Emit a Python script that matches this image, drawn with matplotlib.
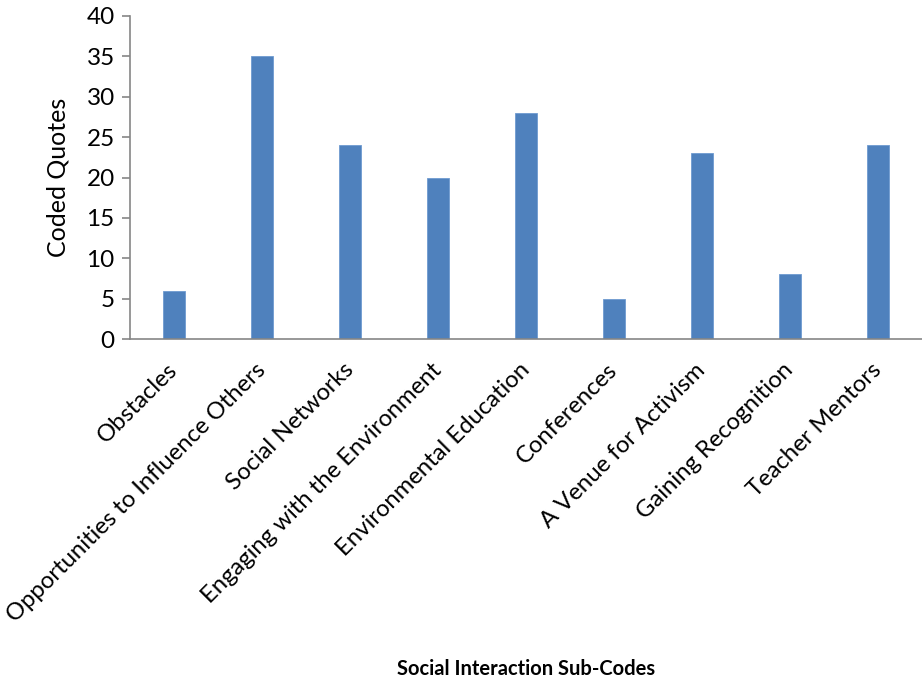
import matplotlib.pyplot as plt

plt.rcParams['font.family'] = ['Lato', 'DejaVu Sans']

categories = ['Obstacles', 'Opportunities to Influence Others', 'Social Networks',
              'Engaging with the Environment', 'Environmental Education', 'Conferences',
              'A Venue for Activism', 'Gaining Recognition', 'Teacher Mentors']
quotes = [6, 35, 24, 20, 28, 5, 23, 8, 24]
yticks = [0, 5, 10, 15, 20, 25, 30, 35, 40]

fig = plt.figure(figsize=(9.22, 6.77), dpi=100)
ax = fig.add_axes([130/922, 1-339/677, 1-130/922, (339-16)/677])

x = list(range(len(categories)))
ax.bar(x, quotes, width=0.25, color='#4F81BD', edgecolor='#6f9ad0', linewidth=0.6)

ax.set_xlim(-0.5, len(categories)-0.5)
ax.set_ylim(0, 40)
ax.set_yticks(yticks)
ax.set_xticks(x)
ax.set_xticklabels(categories, rotation=45, ha='right', va='center', rotation_mode='anchor')

for s in ['top', 'right']:
    ax.spines[s].set_visible(False)
for s in ['left', 'bottom']:
    ax.spines[s].set_color('#868686')
    ax.spines[s].set_linewidth(1.2)

ax.tick_params(axis='y', length=6, width=1.2, color='#868686', labelsize=17.5, pad=5)
ax.tick_params(axis='x', length=0, labelsize=17.2, pad=20)

ax.set_ylabel('Coded Quotes', fontsize=18, labelpad=12)
ax.set_xlabel('Social Interaction Sub-Codes', fontsize=14.5, fontweight='bold')
ax.xaxis.set_label_coords(0.5, -0.99)

fig.savefig('out.png', dpi=100)
